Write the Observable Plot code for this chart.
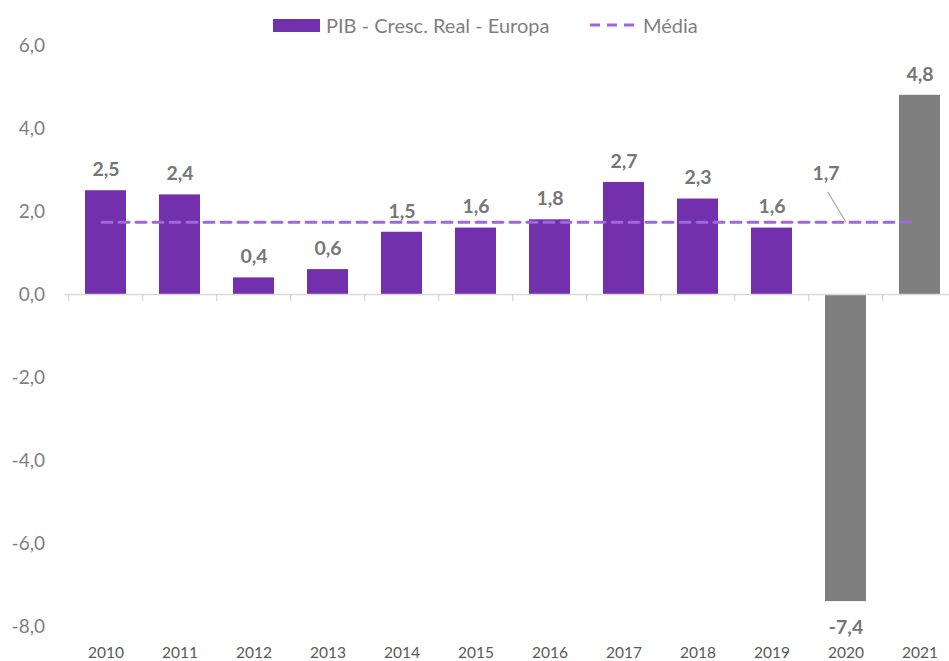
<!DOCTYPE html>
<html>
<head>
<meta charset="utf-8">
<script src="https://cdn.jsdelivr.net/npm/d3@7"></script>
<script src="https://cdn.jsdelivr.net/npm/@observablehq/plot@0.6"></script>
<style>
  html, body { margin: 0; padding: 0; background: #fff; }
  #wrap { width: 949px; height: 661px; overflow: hidden; position: relative; font-family: Lato, "Open Sans", sans-serif; }
  #legend { height: 30px; position: relative; color: #7f7f7f; font-size: 20px; }
  #legend .item { position: absolute; top: 13px; display: flex; align-items: center; }
  #chart svg { max-width: none !important; display: block; }
</style>
</head>
<body>
<div id="wrap">
  <div id="legend">
    <div class="item" style="left:273px;"><svg width="47" height="13" style="margin-right:6px"><rect width="47" height="13" fill="#7230AC"/></svg><span>PIB - Cresc. Real - Europa</span></div>
    <div class="item" style="left:590px;"><svg width="50" height="12" style="margin-right:3px"><line x1="0" x2="50" y1="6" y2="6" stroke="#A066DD" stroke-width="3" stroke-dasharray="10,7"/></svg><span>Média</span></div>
  </div>
  <div id="chart"></div>
</div>
<script>
const years = ["2010","2011","2012","2013","2014","2015","2016","2017","2018","2019","2020","2021"];
const growth = [2.5, 2.4, 0.4, 0.6, 1.5, 1.6, 1.8, 2.7, 2.3, 1.6, -7.4, 4.8];
const barKind = ["real","real","real","real","real","real","real","real","real","real","other","other"];
const meanYears = ["2010", "2021"];
const meanValue = 1.74;
const meanLabelYear = "2020";
const yTicks = [-8, -6, -4, -2, 0, 2, 4, 6];

const data = years.map((y, i) => ({year: y, value: growth[i], kind: barKind[i]}));
const meanData = meanYears.map(y => ({year: y, value: meanValue}));
const fmt = v => v.toFixed(1).replace(".", ",");

const W = 961, ML = 64.5, MR = 0.5;
const step = (W - ML - MR) / years.length;

const chart = Plot.plot({
  width: W,
  height: 631,
  marginLeft: ML,
  marginRight: MR,
  marginTop: 15,
  marginBottom: 35,
  style: {fontFamily: "Lato, 'Open Sans', sans-serif", background: "#fff", maxWidth: "none"},
  x: {domain: years, paddingInner: 0.45, paddingOuter: 0.225, label: null},
  y: {domain: [-8, 6], label: null},
  color: {domain: ["real", "other"], range: ["#7230AC", "#7F7F7F"]},
  marks: [
    Plot.axisY({ticks: yTicks, tickFormat: fmt, tickSize: 0, tickPadding: 20, fontSize: 19, color: "#7f7f7f", label: null}),
    Plot.axisX({tickSize: 0, tickPadding: 20, fontSize: 15.5, color: "#595959", label: null}),
    Plot.barY(data, {x: "year", y: "value", fill: "kind"}),
    Plot.ruleY([0], {stroke: "#d9d9d9", strokeWidth: 1.3}),
    Plot.ruleX(years, {x: d => d, y1: 0, y2: -0.17, dx: -step / 2, stroke: "#d9d9d9", strokeWidth: 1.3}),
    Plot.line(meanData, {x: "year", y: "value", stroke: "#A066DD", strokeWidth: 3, strokeDasharray: "10,7", dx: -4}),
    Plot.text(data.filter(d => d.value >= 0), {x: "year", y: "value", text: d => fmt(d.value), dy: -21, lineAnchor: "middle", fontSize: 19.5, fontWeight: "bold", fill: "#767676"}),
    Plot.text(data.filter(d => d.value < 0), {x: "year", y: "value", text: d => fmt(d.value), dy: 26, lineAnchor: "middle", fontSize: 19.5, fontWeight: "bold", fill: "#767676"}),
    Plot.vector([{year: meanLabelYear, value: meanValue}], {x: "year", y: "value", length: 35, rotate: -31, anchor: "start", stroke: "#a6a6a6", strokeWidth: 1.2,
      shape: {draw(context, l) { context.moveTo(0, 0); context.lineTo(0, -l); }}}),
    Plot.text([{year: meanLabelYear, value: meanValue}], {x: "year", y: "value", text: d => fmt(d.value), dx: -20, dy: -49, lineAnchor: "middle", fontSize: 19.5, fontWeight: "bold", fill: "#767676"})
  ]
});
document.getElementById("chart").appendChild(chart);
</script>
</body>
</html>
